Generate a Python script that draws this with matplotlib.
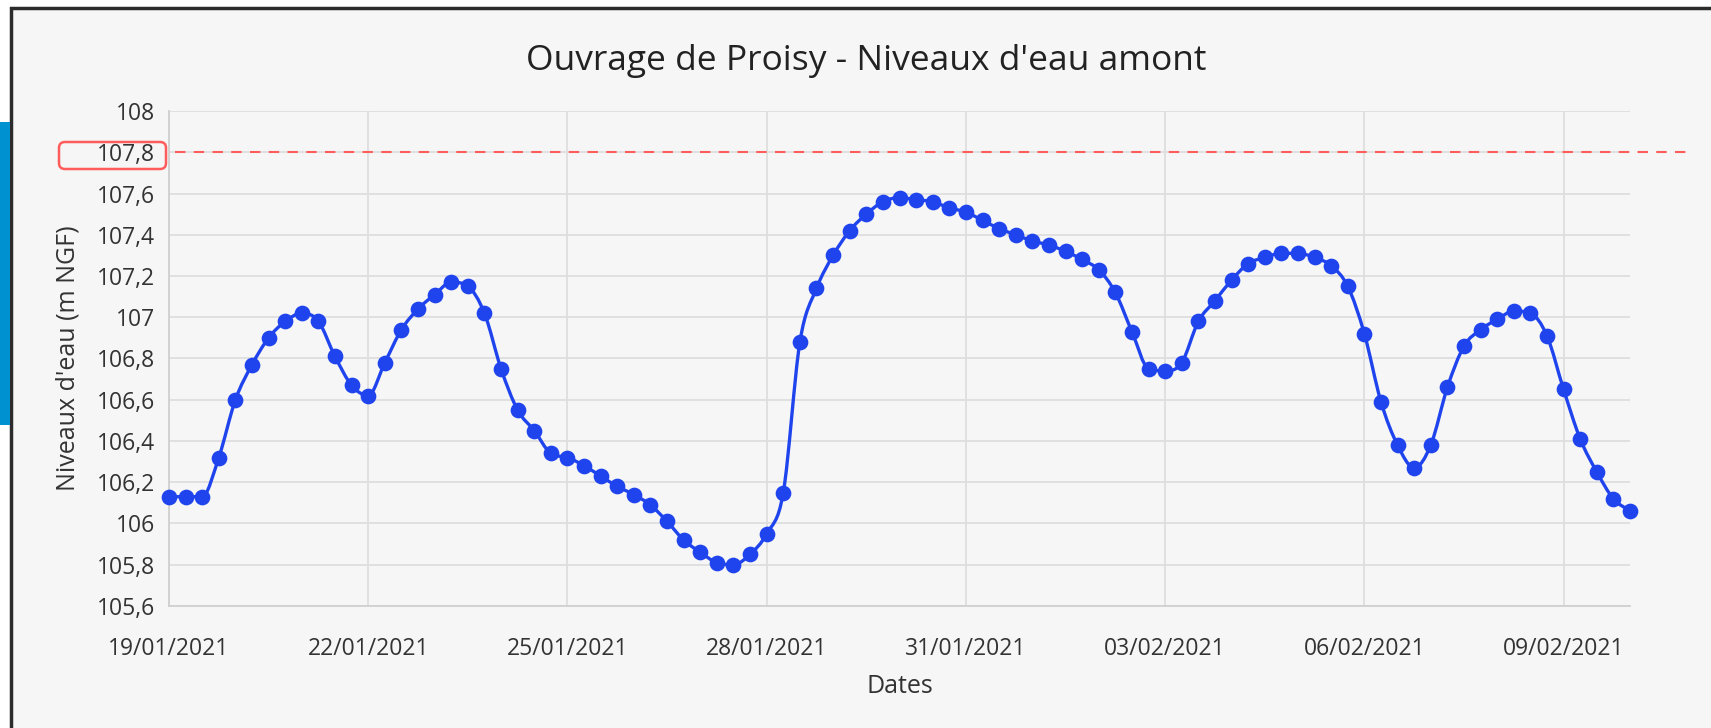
import numpy as np
import pandas as pd
import matplotlib.pyplot as plt
import matplotlib.dates as mdates
from matplotlib.path import Path
from matplotlib.patches import PathPatch, Rectangle, FancyBboxPatch

plt.rcParams['font.family'] = ['Open Sans', 'DejaVu Sans']

# niveaux amont, un releve toutes les 6 h du 19/01/2021 00h au 10/02/2021 00h
start = "2021-01-19"
step = "6h"
levels = [106.13, 106.13, 106.13, 106.32, 106.60, 106.77, 106.90, 106.98,
          107.02, 106.98, 106.81, 106.67, 106.62, 106.78, 106.94, 107.04,
          107.11, 107.17, 107.15, 107.02, 106.75, 106.55, 106.45, 106.34,
          106.32, 106.28, 106.23, 106.18, 106.14, 106.09, 106.01, 105.92,
          105.86, 105.81, 105.80, 105.85, 105.95, 106.15, 106.88, 107.14,
          107.30, 107.42, 107.50, 107.56, 107.58, 107.57, 107.56, 107.53,
          107.51, 107.47, 107.43, 107.40, 107.37, 107.35, 107.32, 107.28,
          107.23, 107.12, 106.93, 106.75, 106.74, 106.78, 106.98, 107.08,
          107.18, 107.26, 107.29, 107.31, 107.31, 107.29, 107.25, 107.15,
          106.92, 106.59, 106.38, 106.27, 106.38, 106.66, 106.86, 106.94,
          106.99, 107.03, 107.02, 106.91, 106.65, 106.41, 106.25, 106.12,
          106.06]
threshold = 107.8
y_ticks = [105.6, 105.8, 106, 106.2, 106.4, 106.6, 106.8, 107, 107.2, 107.4, 107.6, 107.8, 108]
date_ticks = pd.date_range("2021-01-19", "2021-02-09", freq="3D")

title = "Ouvrage de Proisy - Niveaux d'eau amont"
xlabel = "Dates"
ylabel = "Niveaux d'eau (m NGF)"

line_col = "#1f44ee"
grid_col = "#dedede"
text_col = "#333333"

times = pd.date_range(start, periods=len(levels), freq=step)
x = mdates.date2num(times.to_pydatetime())
y = np.array(levels)

W, H = 1711, 728
fig = plt.figure(figsize=(W / 100, H / 100), dpi=100)
fig.patch.set_facecolor("white")

# panel background + border, blue side tab
fig.add_artist(Rectangle((11 / W, -0.05), 1.05, 1 - 8 / H + 0.05, transform=fig.transFigure,
                         facecolor="#f6f6f6", edgecolor="#2b2b2b", linewidth=2.5, zorder=0))
fig.add_artist(Rectangle((0, 1 - 425 / H), 10 / W, (425 - 122) / H, transform=fig.transFigure,
                         facecolor="#0091d0", edgecolor="none", zorder=1))

ax = fig.add_axes([169 / W, 1 - 606 / H, (1630 - 169) / W, (606 - 111) / H])
ax.set_facecolor("none")

# monotone cubic (Fritsch-Carlson) drawn as bezier segments, like the original
h = np.diff(x)
d = np.diff(y) / h
m = np.zeros_like(y)
m[0], m[-1] = d[0], d[-1]
for i in range(1, len(y) - 1):
    if d[i - 1] * d[i] <= 0:
        m[i] = 0
    else:
        m[i] = (d[i - 1] + d[i]) / 2
for i in range(len(d)):
    if d[i] == 0:
        m[i] = m[i + 1] = 0
        continue
    a, b = m[i] / d[i], m[i + 1] / d[i]
    s = a * a + b * b
    if s > 9:
        t = 3 / np.sqrt(s)
        m[i], m[i + 1] = t * a * d[i], t * b * d[i]
verts = [(x[0], y[0])]
codes = [Path.MOVETO]
for i in range(len(h)):
    verts += [(x[i] + h[i] / 3, y[i] + m[i] * h[i] / 3),
              (x[i + 1] - h[i] / 3, y[i + 1] - m[i + 1] * h[i] / 3),
              (x[i + 1], y[i + 1])]
    codes += [Path.CURVE4] * 3
ax.add_patch(PathPatch(Path(verts, codes), facecolor="none", edgecolor=line_col,
                       linewidth=2.4, zorder=3))
ax.plot(x, y, "o", color=line_col, markersize=10.3, clip_on=False, zorder=4)

# seuil 107,8
ax.plot([0.004, 1.042], [threshold, threshold], transform=ax.get_yaxis_transform(),
        color="#ff5c5c", linewidth=1.5, dashes=(5, 4), clip_on=False, zorder=2)

ax.set_xlim(x[0], x[-1])
ax.set_ylim(105.6, 108)
ax.set_yticks(y_ticks)
ax.set_yticklabels([f"{v:g}".replace(".", ",") for v in y_ticks])
ax.set_xticks(mdates.date2num(date_ticks.to_pydatetime()))
ax.set_xticklabels([d.strftime("%d/%m/%Y") for d in date_ticks])
ax.tick_params(length=0, labelsize=16.5, labelcolor=text_col)
ax.tick_params(axis="y", pad=10)
ax.tick_params(axis="x", pad=22)
ax.grid(True, color=grid_col, linewidth=1.3)
ax.set_axisbelow(True)
for side in ["top", "right"]:
    ax.spines[side].set_visible(False)
for side in ["left", "bottom"]:
    ax.spines[side].set_color("#d0d0d0")
    ax.spines[side].set_linewidth(1.3)

ax.set_xlabel(xlabel, fontsize=18, color=text_col, labelpad=10)
ax.set_ylabel(ylabel, fontsize=18, color=text_col, labelpad=12)
fig.text(866 / W, 1 - 61 / H, title, fontsize=25.5, color="#222222", ha="center", va="center")

# encadre rouge autour du libelle 107,8
fig.add_artist(FancyBboxPatch((59 / W, 1 - 169 / H), (166 - 59) / W, 27 / H,
                              boxstyle="round,pad=0,rounding_size=0.0035",
                              mutation_aspect=W / H, transform=fig.transFigure,
                              facecolor="none", edgecolor="#ff5c5c", linewidth=1.8, zorder=5))

fig.savefig("out.png", dpi=100)
